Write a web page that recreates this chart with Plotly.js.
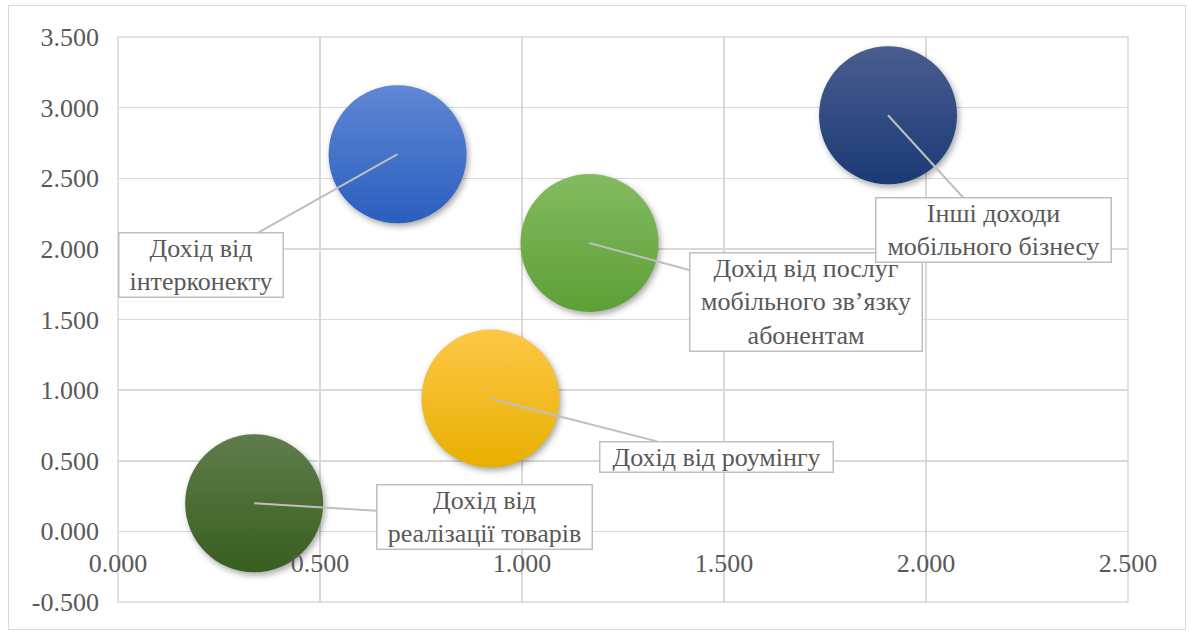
<!DOCTYPE html>
<html>
<head>
<meta charset="utf-8">
<script src="https://cdn.plot.ly/plotly-3.0.1.min.js"></script>
<style>
  html, body { margin: 0; padding: 0; background: #ffffff; }
  #wrap { position: relative; width: 1190px; height: 633px; }
  #chart { width: 1190px; height: 633px; }
  #frame { position: absolute; left: 8px; top: 5px; width: 1176px; height: 623px;
           border: 1.5px solid #d9d9d9; pointer-events: none; }
  .scatterlayer .points path { filter: drop-shadow(2px 3px 3px rgba(0,0,0,0.35)); }
  #chart text { font-family: "Liberation Serif", "Times New Roman", "DejaVu Serif", serif !important; }
</style>
</head>
<body>
<div id="wrap">
  <div id="chart"></div>
  <div id="frame"></div>
</div>
<script>
// ---- data ----
const categories = [
  "Дохід від<br>інтерконекту",
  "Дохід від послуг<br>мобільного зв’язку<br>абонентам",
  "Інші доходи<br>мобільного бізнесу",
  "Дохід від роумінгу",
  "Дохід від<br>реалізації товарів"
];
const xValues = [0.692, 1.167, 1.906, 0.922, 0.337];
const yValues = [2.670, 2.042, 2.946, 0.940, 0.199];
const bubbleSizes = [1, 1, 1, 1, 1];

const xTickVals = [0, 0.5, 1, 1.5, 2, 2.5];
const xTickText = ["0.000", "0.500", "1.000", "1.500", "2.000", "2.500"];
const yTickVals = [-0.5, 0, 0.5, 1, 1.5, 2, 2.5, 3, 3.5];
const yTickText = ["-0.500", "0.000", "0.500", "1.000", "1.500", "2.000", "2.500", "3.000", "3.500"];

// ---- styles ----
const topColors = ["#5f88d4", "#83bc60", "#4a5d8e", "#fec748", "#5f7d4c"];
const bottomColors = ["#2a5ebf", "#5e9f36", "#1a3a76", "#e8b000", "#385e1e"];
const labelOffsets = [[-197, 111], [217, 59], [105, 115], [226, 58], [230, 14]];
const labelWidths = [163, 231, 234, 232, 214];

const FONT = "Times New Roman, Liberation Serif, serif";
const TXT = "#595959";
const GRID = "#d9d9d9";

const trace = {
  type: "scatter",
  mode: "markers",
  x: xValues,
  y: yValues,
  text: categories,
  hoverinfo: "none",
  cliponaxis: false,
  marker: {
    size: bubbleSizes,
    sizemode: "diameter",
    sizeref: 1 / 138,
    color: topColors,
    opacity: 1,
    line: { width: 0 },
    gradient: { type: "vertical", color: bottomColors }
  },
  showlegend: false
};

const annotations = categories.map((c, i) => ({
  x: xValues[i],
  y: yValues[i],
  xref: "x",
  yref: "y",
  text: c,
  showarrow: true,
  arrowhead: 0,
  arrowwidth: 2,
  arrowcolor: "#bfbfbf",
  standoff: 0,
  ax: labelOffsets[i][0],
  ay: labelOffsets[i][1],
  width: labelWidths[i],
  align: "center",
  bgcolor: "#ffffff",
  bordercolor: "#bfbfbf",
  borderwidth: 1.5,
  borderpad: 0,
  font: { family: FONT, size: 26, color: TXT }
}));

const layout = {
  width: 1190,
  height: 633,
  margin: { l: 118, r: 62, t: 37, b: 31, pad: 0 },
  paper_bgcolor: "rgba(0,0,0,0)",
  plot_bgcolor: "#ffffff",
  font: { family: FONT, size: 26, color: TXT },
  xaxis: {
    range: [0, 2.5],
    tickmode: "array",
    tickvals: xTickVals,
    ticktext: xTickText,
    showgrid: true,
    gridcolor: GRID,
    gridwidth: 1.5,
    zeroline: false,
    showline: false,
    ticks: "",
    ticklabelstandoff: 14,
    anchor: "free",
    position: 0.1252,
    tickfont: { family: FONT, size: 26, color: TXT },
    fixedrange: true
  },
  yaxis: {
    range: [-0.5, 3.5],
    tickmode: "array",
    tickvals: yTickVals,
    ticktext: yTickText,
    showgrid: true,
    gridcolor: GRID,
    gridwidth: 1.5,
    zeroline: false,
    showline: false,
    ticks: "",
    ticklabelstandoff: 18,
    tickfont: { family: FONT, size: 26, color: TXT },
    fixedrange: true
  },
  shapes: [{
    type: "rect", xref: "paper", yref: "paper", x0: 0, x1: 1, y0: 0, y1: 1,
    line: { color: GRID, width: 1.5 }, fillcolor: "rgba(0,0,0,0)", layer: "below"
  }],
  annotations: annotations
};

Plotly.newPlot("chart", [trace], layout, { displayModeBar: false, staticPlot: true });
</script>
</body>
</html>
